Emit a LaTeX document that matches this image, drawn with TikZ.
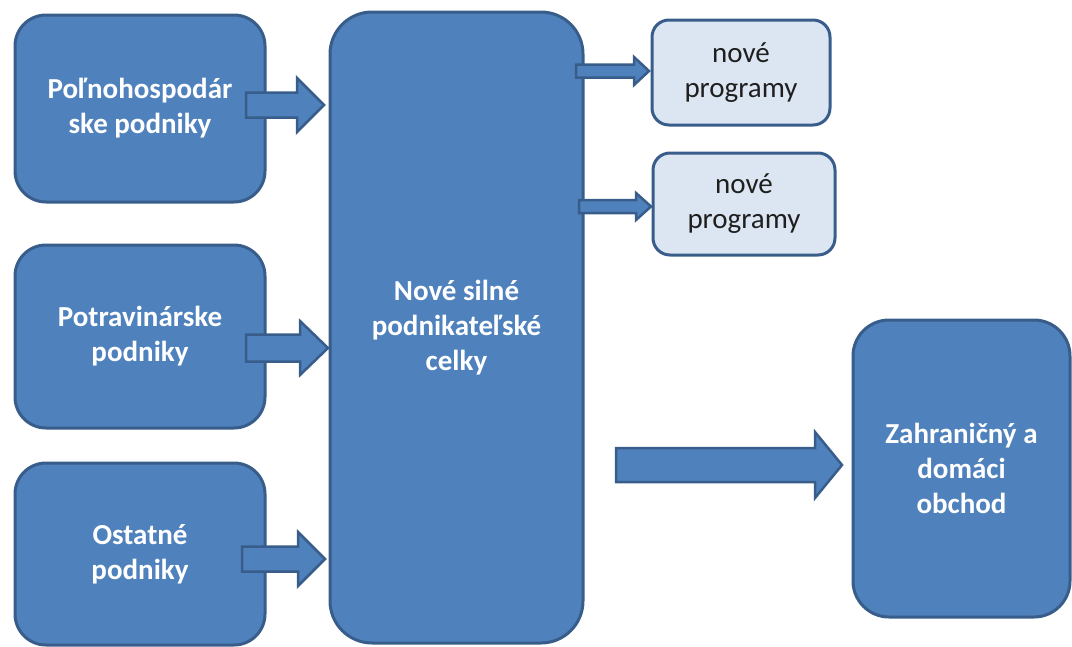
\documentclass[tikz,border=0pt]{standalone}
\usepackage{fontspec}
\setmainfont{Carlito}
\usepackage{xcolor}
\usetikzlibrary{calc}
\definecolor{boxblue}{HTML}{4F81BD}
\definecolor{edgeblue}{HTML}{385D8A}
\definecolor{paleblue}{HTML}{DCE6F2}
\definecolor{progtext}{HTML}{1F1F1F}
\newcommand{\boxfont}{\fontsize{29}{35}\selectfont}
\tikzstyle{unitbox}=[draw=edgeblue,fill=boxblue,line width=3pt,align=center,text=white,font=\boxfont\bfseries,inner sep=0pt]
\tikzstyle{progbox}=[draw=edgeblue,fill=paleblue,line width=3pt,align=center,text=progtext,font=\boxfont,inner sep=0pt,rounded corners=17pt]
\tikzstyle{arrowbody}=[draw=edgeblue,fill=boxblue,line width=2.5pt,line join=miter]
% tail, tip, shaft half width, head half width, head length
\newcommand{\blockarrow}[5]{%
  \path[arrowbody] ($(#1)+(0,-#3)$) -- ($(#2)+(-#5,-#3)$) -- ($(#2)+(-#5,-#4)$) -- (#2)
    -- ($(#2)+(-#5,#4)$) -- ($(#2)+(-#5,#3)$) -- ($(#1)+(0,#3)$) -- cycle;}
\begin{document}
\begin{tikzpicture}[x=1pt,y=-1pt]
  \useasboundingbox (0,0) rectangle (1072,646);
  % source units
  \node[unitbox, minimum width=250pt, minimum height=187pt, rounded corners=31pt] (farm) at (140,108.5) {Poľnohospodár\\ske podniky};
  \node[unitbox, minimum width=250pt, minimum height=183pt, rounded corners=31pt] (food) at (140,336.5) {Potravinárske\\podniky};
  \node[unitbox, minimum width=250pt, minimum height=182pt, rounded corners=31pt] (other) at (140,554) {Ostatné\\podniky};
  % merged unit
  \node[unitbox, minimum width=253pt, minimum height=631pt, rounded corners=42pt] (merged) at (456.5,327.5) {Nové silné\\podnikateľské\\celky};
  % outputs
  \node[progbox, minimum width=178pt, minimum height=105pt] (progA) at (741,72.5) {nové\\programy};
  \node[progbox, minimum width=182pt, minimum height=102pt] (progB) at (744,204) {nové\\programy};
  \node[unitbox, minimum width=217pt, minimum height=297pt, rounded corners=36pt] (trade) at (961.5,468.5) {Zahraničný a\\domáci\\obchod};
  % arrow ends
  \coordinate (farmout) at (246,105);
  \coordinate (farmin) at (324,105);
  \coordinate (foodout) at (246,348);
  \coordinate (foodin) at (328,348);
  \coordinate (otherout) at (242,559);
  \coordinate (otherin) at (325,559);
  \coordinate (progAout) at (576,71);
  \coordinate (progAin) at (649,71);
  \coordinate (progBout) at (579,206.5);
  \coordinate (progBin) at (651,206.5);
  \coordinate (tradeout) at (616,465);
  \coordinate (tradein) at (842,465);
  % arrows
  \blockarrow{farmout}{farmin}{12.5}{27}{27}
  \blockarrow{foodout}{foodin}{13.5}{27}{28}
  \blockarrow{otherout}{otherin}{12.5}{27}{27}
  \blockarrow{progAout}{progAin}{6.5}{14}{15}
  \blockarrow{progBout}{progBin}{6.5}{13.5}{15}
  \blockarrow{tradeout}{tradein}{17}{33}{27}
\end{tikzpicture}
\end{document}
